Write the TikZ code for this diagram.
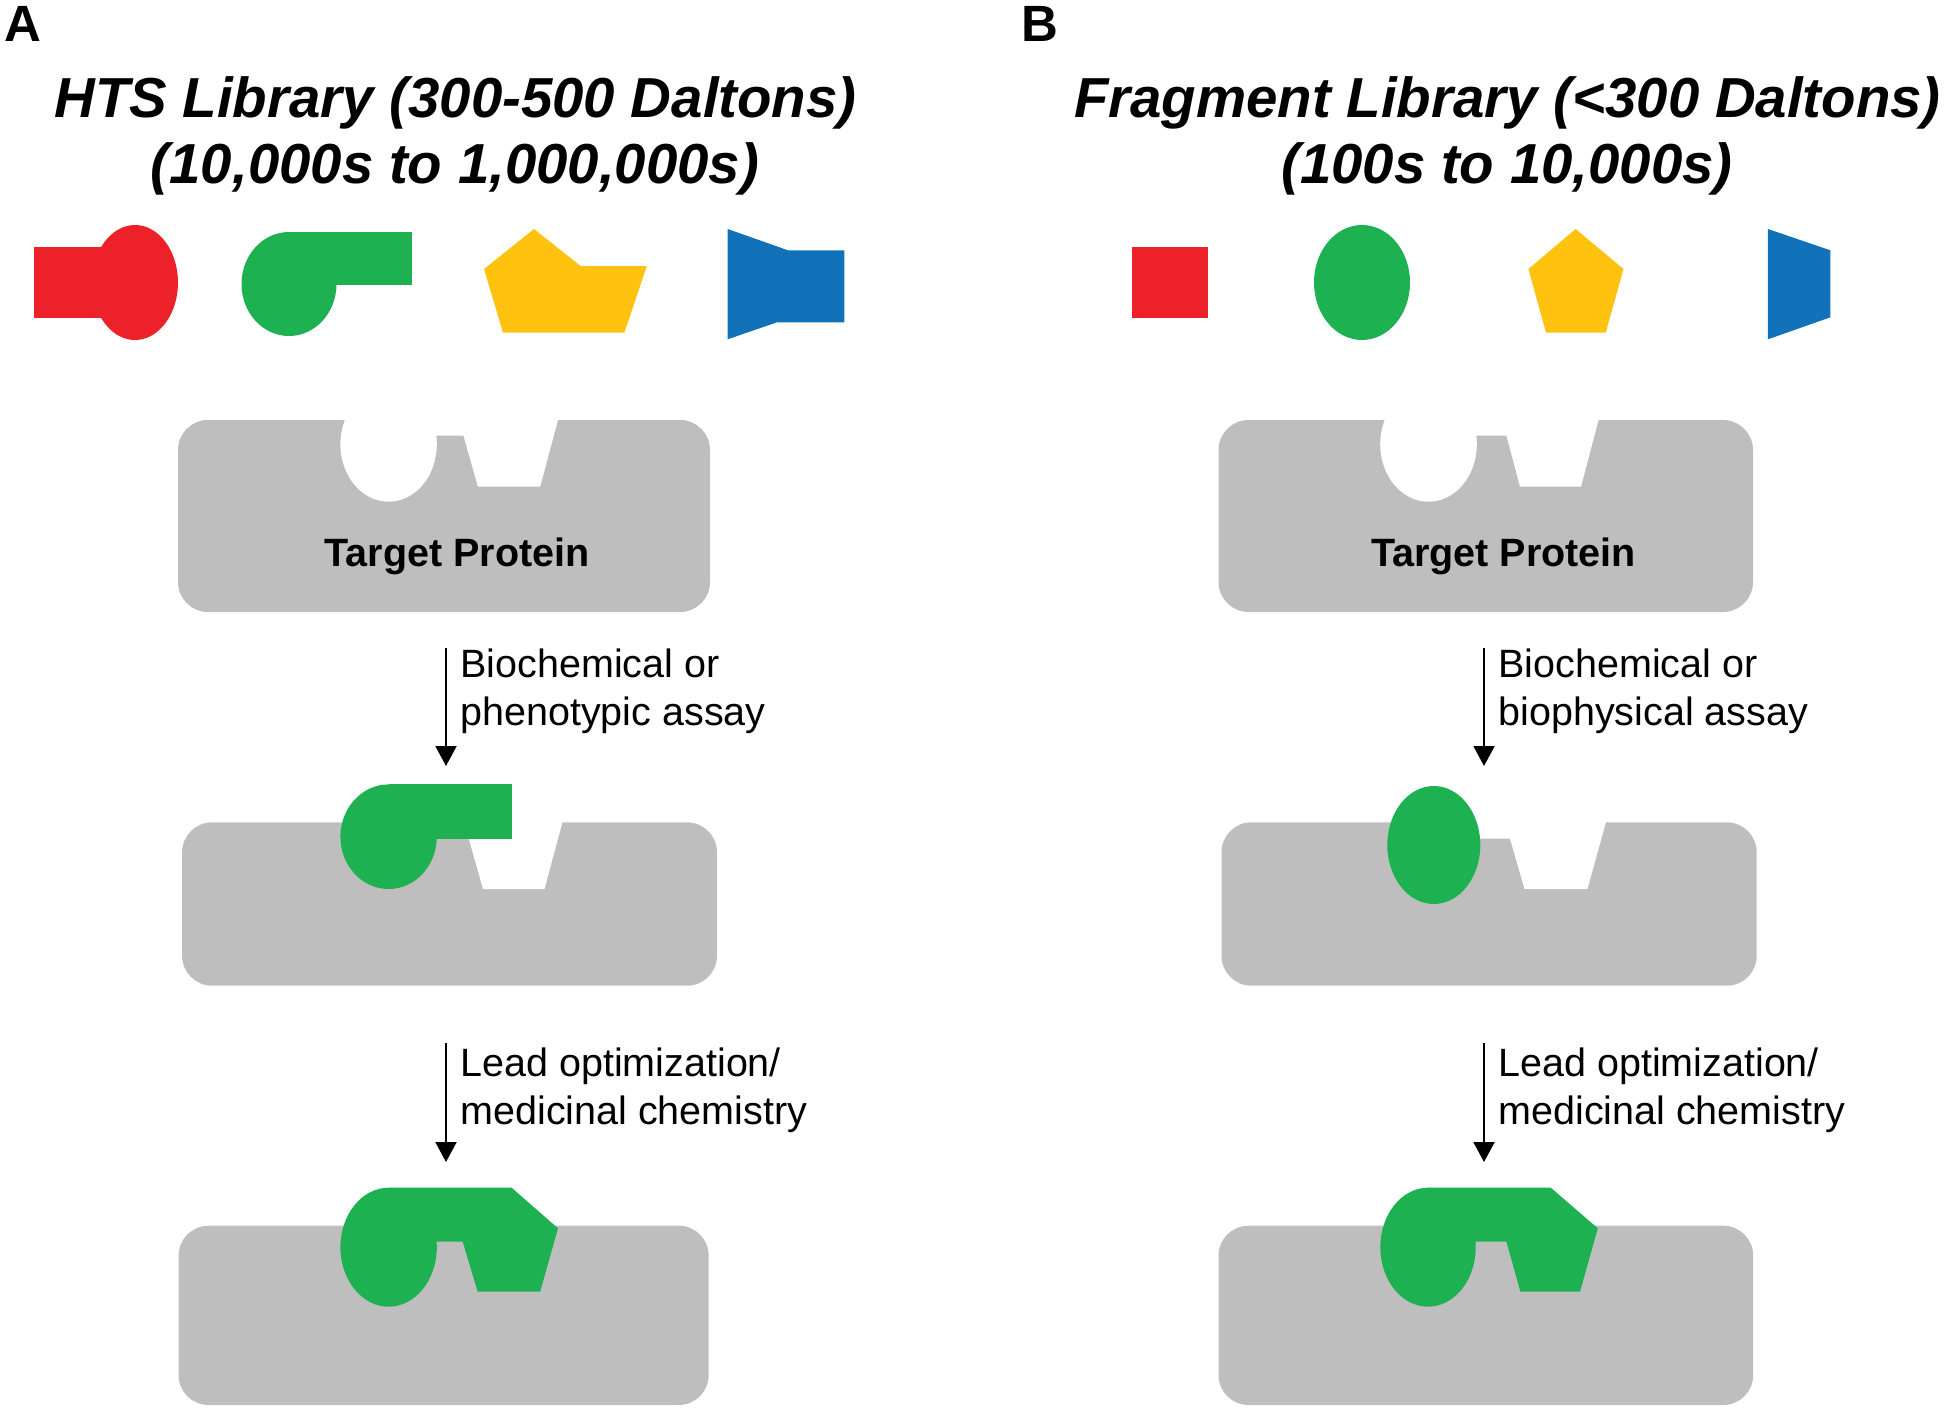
\documentclass[tikz,border=0pt]{standalone}
\usepackage{fontspec}
\setmainfont{Liberation Sans}
\usetikzlibrary{arrows.meta}
\definecolor{molred}{HTML}{ED2129}
\definecolor{molgreen}{HTML}{1EB151}
\definecolor{molyellow}{HTML}{FFC20F}
\definecolor{molblue}{HTML}{1171B9}
\definecolor{protgrey}{HTML}{BEBEBE}
\begin{document}
\begin{tikzpicture}[x=0.5pt,y=-0.5pt,
  panel/.style={font=\fontsize{25.5}{30}\selectfont\bfseries, anchor=base west, inner sep=0},
  title/.style={font=\fontsize{28.2}{33}\selectfont\bfseries\itshape, anchor=base, inner sep=0},
  protlabel/.style={font=\fontsize{19.75}{23.7}\selectfont\bfseries, anchor=base, inner sep=0},
  lbl/.style={font=\fontsize{19.75}{23.7}\selectfont, anchor=base west, inner sep=0},
  protein/.style={fill=protgrey, rounded corners=15pt},
  cavity/.style={fill=white},
  flow/.style={line width=1pt, -{Triangle[width=10.5pt,length=10pt]}}
]
\useasboundingbox (0,0) rectangle (1944,1408);

% panel letters
\node[panel] (pA) at (4,41) {A};
\node[panel] (pB) at (1021,41) {B};

% titles
\node[title] (tA1) at (455.5,117) {HTS Library (300-500 Daltons)};
\node[title] (tA2) at (455,183) {(10,000s to 1,000,000s)};
\node[title] (tB1) at (1507.5,117) {Fragment Library (<300 Daltons)};
\node[title] (tB2) at (1507,183) {(100s to 10,000s)};

% ---------- library A ----------
\fill[molred] (33.7,247) rectangle (135,318);
\fill[molred] (135,282.5) ellipse [x radius=21.5pt, y radius=28.75pt];
\fill[molgreen] (289,284) ellipse [x radius=23.75pt, y radius=26pt];
\fill[molgreen] (289,232) rectangle (412,285);
\fill[molyellow] (484,269) -- (534,229) -- (580.6,266) -- (646.8,266) -- (624.4,332.7) -- (503,332.7) -- cycle;
\fill[molblue] (727.6,229) -- (788,250.3) -- (844.3,250.3) -- (844.3,322.3) -- (777,322.3) -- (727.6,339.3) -- cycle;

% ---------- library B ----------
\fill[molred] (1132.3,246.7) rectangle (1207.6,318.3);
\fill[molgreen] (1362,282.5) ellipse [x radius=24pt, y radius=28.75pt];
\fill[molyellow] (1575.6,229) -- (1623.5,269) -- (1605.7,332.7) -- (1546,332.7) -- (1528.4,269) -- cycle;
\fill[molblue] (1767.9,229) -- (1830.4,250.3) -- (1830.4,317.3) -- (1767.9,339.3) -- cycle;

% ---------- top proteins ----------
\fill[protein] (178,420) rectangle (710,612);
\fill[cavity] (388.6,444.2) ellipse [x radius=24.1pt, y radius=28.75pt];
\fill[cavity] (388.6,410) -- (388.6,435.7) -- (463.5,435.7) -- (477.9,486.7) -- (540.2,486.7) -- (558,420) -- (560.7,410) -- cycle;
\node[protlabel] (tpA) at (457,566.7) {Target Protein};

\fill[protein] (1218.5,420) rectangle (1753,612);
\fill[cavity] (1428.5,444.2) ellipse [x radius=24.15pt, y radius=28.75pt];
\fill[cavity] (1428.5,410) -- (1428.5,435.7) -- (1506.4,435.7) -- (1520,486.7) -- (1581,486.7) -- (1598.5,420) -- (1601.2,410) -- cycle;
\node[protlabel] (tpB) at (1503.4,566.7) {Target Protein};

% ---------- middle proteins ----------
\fill[protein] (182.1,822.3) rectangle (717,985.7);
\fill[cavity] (440,815) -- (440,838.7) -- (468.8,838.7) -- (483,889) -- (544.5,889) -- (562.4,822.3) -- (564.4,815) -- cycle;
\fill[molgreen] (388.6,836.7) ellipse [x radius=24.1pt, y radius=26.15pt];
\fill[molgreen] (388.6,784.3) rectangle (511.6,838.7);

\fill[protein] (1221.5,822.3) rectangle (1756.7,985.7);
\fill[cavity] (1440,815) -- (1440,838.7) -- (1510,838.7) -- (1524.5,889) -- (1587.4,889) -- (1605.9,822.3) -- (1607.9,815) -- cycle;
\fill[molgreen] (1433.8,845) ellipse [x radius=23.25pt, y radius=29.5pt];

% ---------- bottom proteins ----------
\fill[protein] (178.6,1225.7) rectangle (708.7,1405);
\fill[molgreen] (388.6,1247.2) ellipse [x radius=24.1pt, y radius=29.75pt];
\fill[molgreen] (388.6,1187.7) -- (511.6,1187.7) -- (558,1228.3) -- (540.2,1291.7) -- (477.7,1291.7) -- (462.7,1241.7) -- (388.6,1241.7) -- cycle;

\fill[protein] (1218.5,1225.7) rectangle (1753.2,1405);
\fill[molgreen] (1428,1247.2) ellipse [x radius=23.85pt, y radius=29.75pt];
\fill[molgreen] (1428,1187.7) -- (1550.8,1187.7) -- (1597.8,1228.3) -- (1580,1291.7) -- (1520.4,1291.7) -- (1506.4,1241.7) -- (1428,1241.7) -- cycle;

% ---------- arrows ----------
\coordinate (a1s) at (446,648);
\coordinate (a1e) at (446,766);
\coordinate (a2s) at (446,1043);
\coordinate (a2e) at (446,1162);
\coordinate (b1s) at (1484,648);
\coordinate (b1e) at (1484,766);
\coordinate (b2s) at (1484,1043);
\coordinate (b2e) at (1484,1162);
\draw[flow] (a1s) -- (a1e);
\draw[flow] (a2s) -- (a2e);
\draw[flow] (b1s) -- (b1e);
\draw[flow] (b2s) -- (b2e);

\node[lbl] (la1) at (460,677) {Biochemical or};
\node[lbl] (la2) at (460,725) {phenotypic assay};
\node[lbl] (la3) at (460,1076) {Lead optimization/};
\node[lbl] (la4) at (460,1124) {medicinal chemistry};
\node[lbl] (lb1) at (1498,677) {Biochemical or};
\node[lbl] (lb2) at (1498,725) {biophysical assay};
\node[lbl] (lb3) at (1498,1076) {Lead optimization/};
\node[lbl] (lb4) at (1498,1124) {medicinal chemistry};
\end{tikzpicture}
\end{document}
